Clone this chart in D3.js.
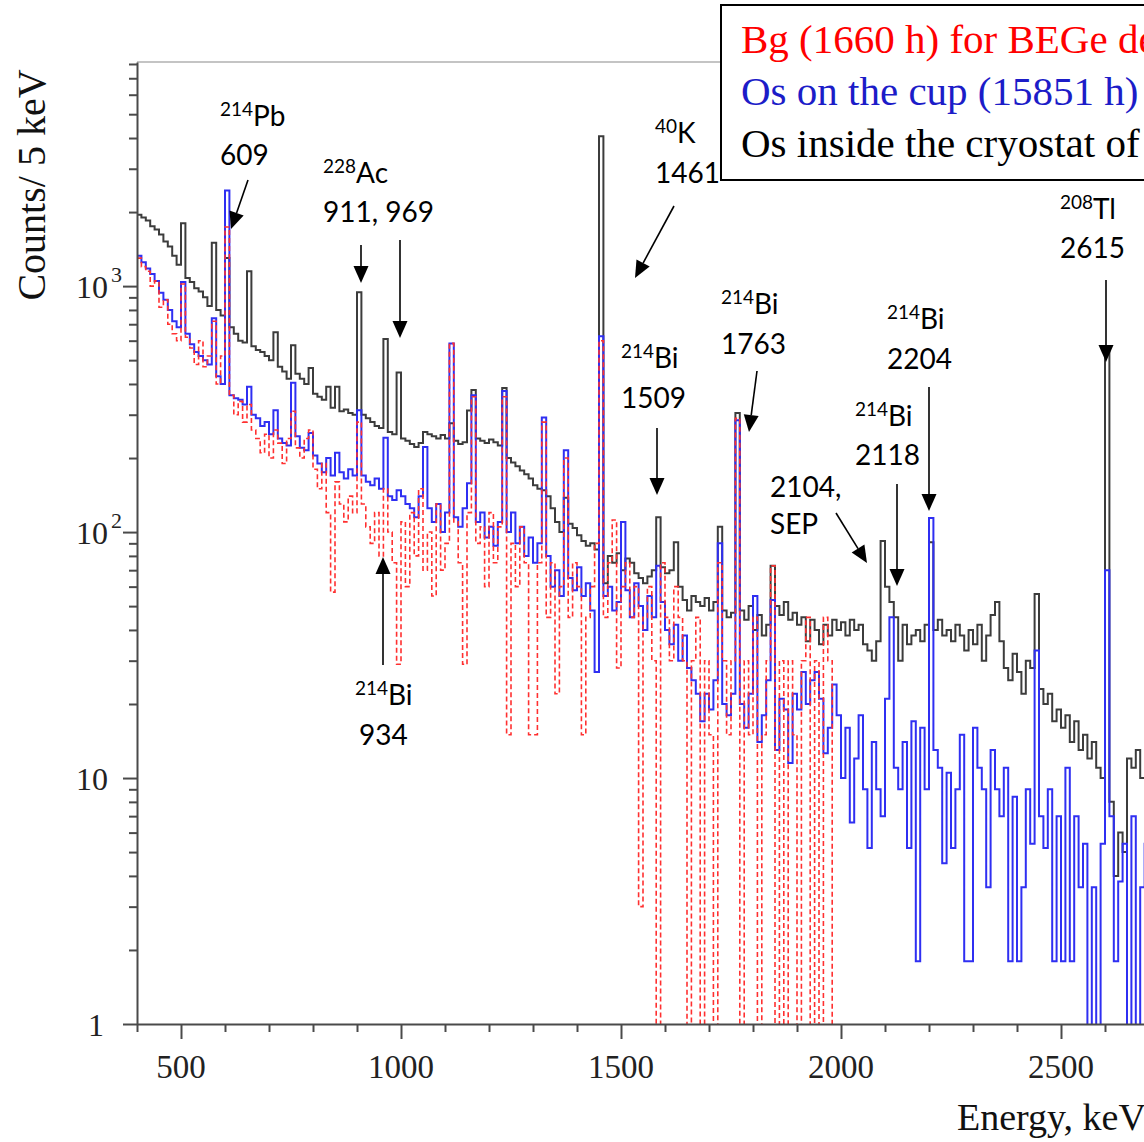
<!DOCTYPE html>
<html><head><meta charset="utf-8">
<script src="https://cdn.jsdelivr.net/npm/d3@7"></script>
<style>body{margin:0;background:#fff;} svg{display:block}</style>
</head><body>
<svg id="chart" width="1144" height="1142"></svg>
<script>
// ---------------- DATA ----------------
const binStartKeV = 400;
const binWidthKeV = 10;

// Os inside the cryostat (black), counts / bin
const osInsideCryostat = [
 1950,1900,1850,1750,1700,1620,1520,1450,1330,1220,
 1800,1080,1040,980,950,900,830,1500,800,760,
 1300,680,640,600,590,1150,570,550,540,520,
 500,650,470,450,420,575,440,420,400,465,
 365,355,345,390,320,390,310,315,305,300,
 945,300,290,280,270,265,610,255,250,445,
 240,235,228,222,230,255,250,245,240,248,
 240,277,235,228,232,312,378,240,235,230,
 238,232,225,385,200,192,185,178,172,165,
 155,150,148,140,125,110,100,138,108,104,
 97,92,88,90,85,4070,62,80,75,82,
 70,78,75,68,65,62,66,70,115,72,
 68,70,91,60,53,48,55,52,50,54,
 48,52,105,48,45,47,305,48,44,50,
 40,46,38,42,73,50,46,52,44,47,
 42,45,36,44,40,35,42,38,44,40,
 43,38,44,40,42,35,33,30,36,92,
 60,52,45,30,42,35,38,40,36,42,
 91,40,44,38,40,36,42,38,33,40,
 35,42,30,38,46,52,36,28,25,32,
 27,22,30,28,56,23,20,22,17,19,
 16,18,14,17,13,15,12,14,11,10,
 550,8,4,6,5,12,11,13,10,10
];

// Os on the cup (blue)
const osOnCup = [
 1330,1250,1180,1120,1050,940,880,800,720,680,
 1040,640,580,540,520,500,480,740,430,400,
 2450,360,350,345,330,390,300,290,270,280,
 250,313,240,230,225,405,245,220,215,253,
 205,190,175,200,170,210,175,165,180,170,
 313,170,160,155,165,150,242,140,135,148,
 140,130,125,115,140,222,125,110,130,100,
 120,585,115,105,125,158,360,110,120,95,
 105,88,110,375,100,120,90,105,80,95,
 75,90,292,80,60,70,55,215,65,58,
 72,55,62,48,27,626,55,60,48,52,
 110,58,45,62,50,40,55,45,73,52,
 40,35,42,30,38,28,25,22,17,22,
 19,25,90,20,18,22,285,20,16,22,
 55,14,18,25,53,13,21,19,11.5,22,
 19,27,20,25,27,21,12.6,16,24,18,
 10,16,6.6,12,18,9,5.2,14,9,7,
 21,45,11,9,14,5.2,17,1.8,16,9,
 114,13,11,4.5,10.5,5.2,9,15,1.8,1.8,
 16,11,9,3.6,13,9,7,11,1.8,8.4,
 1.8,3.6,9,5.4,33,7,5.2,9,1.8,7,
 1.8,11,1.8,7,3.6,5.4,0,3.6,0,5.4,
 70,7,1.8,3.8,5.4,0,7,0,3.6,5.4
];

// Bg for BEGe detector (red dashed), ends at 1990 keV
const bgBEGe = [
 1300,1200,1150,1000,1050,820,880,700,640,600,
 1020,620,560,480,600,470,520,720,400,520,
 1740,360,300,340,280,330,260,240,210,250,
 200,260,230,190,240,310,220,200,240,260,
 180,150,190,120,57,160,130,110,140,120,
 280,130,105,90,120,80,150,100,75,29,
 110,60,120,80,150,70,100,55,130,70,
 90,585,110,75,29,120,355,90,105,60,
 120,75,105,355,15,90,60,105,75,15,
 15,75,280,45,75,22,60,200,45,75,
 60,15,45,60,90,600,45,75,112,28,
 60,75,45,60,3,45,60,30,0,75,
 45,30,60,45,30,0,30,45,0,30,
 15,0,75,30,15,30,290,0,30,15,
 45,0,15,30,73,0,30,0,30,15,
 0,30,45,0,30,0,45,30,0
];

const xMajorTicks = [500, 1000, 1500, 2000, 2500];
const yMajorTicks = [1, 10, 100, 1000];
const yTickBase = ["1", "10", "10", "10"];
const yTickExp  = ["", "", "2", "3"];
const legendLabels = ["Bg (1660 h) for BEGe detector", "Os on the cup (15851 h)", "Os inside the cryostat of BEGe"];

// ---------------- LAYOUT ----------------
const svg = d3.select("#chart");
const L = 137, B = 1024, T = 62, R = 1193;
const x = d3.scaleLinear().domain([400, 2800]).range([L, R]);
const y = d3.scaleLog().domain([1, 8150]).range([B, T]);

const defs = svg.append("defs");
defs.append("clipPath").attr("id", "plotclip").append("rect")
  .attr("x", L).attr("y", T).attr("width", R - L).attr("height", B - T);

// top frame
svg.append("line").attr("x1", L).attr("x2", R).attr("y1", T).attr("y2", T)
  .attr("stroke", "#c4c4c4").attr("stroke-width", 2);

function stepPoints(vals) {
  const pts = vals.map((v, i) => ({e: binStartKeV + i * binWidthKeV, v}));
  pts.push({e: binStartKeV + vals.length * binWidthKeV, v: vals[vals.length - 1]});
  return pts;
}
const line = d3.line()
  .x(d => x(d.e))
  .y(d => y(Math.max(d.v, 0.55)))
  .curve(d3.curveStepAfter);

const plot = svg.append("g").attr("clip-path", "url(#plotclip)");
plot.append("path").attr("d", line(stepPoints(osInsideCryostat)))
  .attr("fill", "none").attr("stroke", "#3c3c3c").attr("stroke-width", 2);
plot.append("path").attr("d", line(stepPoints(osOnCup)))
  .attr("fill", "none").attr("stroke", "#2f2ff2").attr("stroke-width", 2);
plot.append("path").attr("d", line(stepPoints(bgBEGe)))
  .attr("fill", "none").attr("stroke", "#ff3030").attr("stroke-width", 1.6)
  .attr("stroke-dasharray", "5,3");

// axes
const axisColor = "#4a4a4a";
const xMinor = d3.range(400, 2801, 100).filter(v => !xMajorTicks.includes(v));
const gx = svg.append("g").attr("transform", `translate(0,${B})`);
gx.call(d3.axisBottom(x).tickValues(xMajorTicks).tickSize(15).tickSizeOuter(0).tickFormat(""));
const gx2 = svg.append("g").attr("transform", `translate(0,${B})`);
gx2.call(d3.axisBottom(x).tickValues(xMinor).tickSize(8).tickSizeOuter(0).tickFormat(""));
gx2.select(".domain").remove();

const yMinor = [];
[1, 10, 100, 1000].forEach(d => { for (let m = 2; m <= 9; m++) if (d * m < 8150) yMinor.push(d * m); });
const gy = svg.append("g").attr("transform", `translate(${L},0)`);
gy.call(d3.axisLeft(y).tickValues(yMajorTicks).tickSize(14).tickSizeOuter(0).tickFormat(""));
const gy2 = svg.append("g").attr("transform", `translate(${L},0)`);
gy2.call(d3.axisLeft(y).tickValues(yMinor).tickSize(8).tickSizeOuter(0).tickFormat(""));
gy2.select(".domain").remove();
svg.selectAll(".domain, .tick line").attr("stroke", axisColor).attr("stroke-width", 2);

const serif = "'Liberation Serif', 'Times New Roman', serif";
// x tick labels
xMajorTicks.forEach(v => {
  svg.append("text").attr("x", x(v)).attr("y", 1078).attr("text-anchor", "middle")
    .attr("font-family", serif).attr("font-size", 33).attr("fill", "#222").text(v);
});
// y tick labels
yMajorTicks.forEach((v, i) => {
  const endX = yTickBase[i] === "1" ? 104 : 108;
  svg.append("text").attr("x", endX).attr("y", y(v) + 12).attr("text-anchor", "end")
    .attr("font-family", serif).attr("font-size", 32).attr("fill", "#222").text(yTickBase[i]);
  if (yTickExp[i]) {
    svg.append("text").attr("x", 111).attr("y", y(v) - 4)
      .attr("font-family", serif).attr("font-size", 22).attr("fill", "#222").text(yTickExp[i]);
  }
});
// axis titles
svg.append("text").attr("transform", "translate(45,185) rotate(-90)").attr("text-anchor", "middle")
  .attr("font-family", serif).attr("font-size", 40).attr("fill", "#111").text("Counts/ 5 keV");
svg.append("text").attr("x", 957).attr("y", 1130)
  .attr("font-family", serif).attr("font-size", 38).attr("fill", "#111").text("Energy, keV");

// annotations
const sans = "Lato, 'Open Sans', Carlito, sans-serif";
const notes = [
  {sup: "214", main: "Pb", num: "609", x: 220, y1: 126, y2: 165},
  {sup: "228", main: "Ac", num: "911, 969", x: 323, y1: 183, y2: 222},
  {sup: "40", main: "K", num: "1461", x: 655, y1: 143, y2: 183},
  {sup: "214", main: "Bi", num: "1509", x: 621, y1: 368, y2: 408},
  {sup: "214", main: "Bi", num: "1763", x: 721, y1: 314, y2: 354},
  {sup: "214", main: "Bi", num: "2204", x: 887, y1: 329, y2: 369},
  {sup: "214", main: "Bi", num: "2118", x: 855, y1: 426, y2: 465},
  {sup: "", main: "2104,", num: "SEP", x: 770, y1: 497, y2: 534},
  {sup: "208", main: "Tl", num: "2615", x: 1060, y1: 219, y2: 258},
  {sup: "214", main: "Bi", num: "934", x: 355, y1: 705, y2: 745, nx: 359}
];
const ann = svg.append("g");
notes.forEach(n => {
  const t = ann.append("text").attr("x", n.x).attr("y", n.y1)
    .attr("font-family", sans).attr("font-size", 28).attr("fill", "#000");
  if (n.sup) {
    t.append("tspan").attr("font-size", 19).attr("dy", -10).text(n.sup);
    t.append("tspan").attr("dy", 10).text(n.main);
  } else t.text(n.main);
  ann.append("text").attr("x", n.nx || n.x).attr("y", n.y2)
    .attr("font-family", sans).attr("font-size", 28).attr("fill", "#000").text(n.num);
});
const arrows = [
  [248, 180, 231, 229], [361, 245, 361, 283], [400, 240, 400, 338],
  [674, 206, 635, 278], [657, 428, 657, 495], [757, 371, 749, 432],
  [929, 387, 929, 511], [897, 484, 897, 586], [836, 513, 867, 563],
  [1106, 280, 1106, 362], [383, 665, 383, 557]
];
arrows.forEach(([x1, y1, x2, y2]) => {
  const dx = x2 - x1, dy = y2 - y1, len = Math.hypot(dx, dy);
  const ux = dx / len, uy = dy / len, hl = 17, hw = 7.5;
  const bx = x2 - ux * hl, by = y2 - uy * hl;
  ann.append("line").attr("x1", x1).attr("y1", y1).attr("x2", bx).attr("y2", by)
    .attr("stroke", "#000").attr("stroke-width", 1.6);
  ann.append("path")
    .attr("d", `M${x2},${y2}L${bx - uy * hw},${by + ux * hw}L${bx + uy * hw},${by - ux * hw}Z`)
    .attr("fill", "#000");
});

// legend
const lg = svg.append("g");
lg.append("rect").attr("x", 721).attr("y", 5).attr("width", 640).attr("height", 175)
  .attr("fill", "#fff").attr("stroke", "#000").attr("stroke-width", 2);
const legendColors = ["#ff0000", "#1c1cc8", "#000000"];
legendLabels.forEach((s, i) => {
  lg.append("text").attr("x", 741).attr("y", 53 + i * 52)
    .attr("font-family", serif).attr("font-size", 41).attr("fill", legendColors[i]).text(s);
});
</script>
</body></html>
